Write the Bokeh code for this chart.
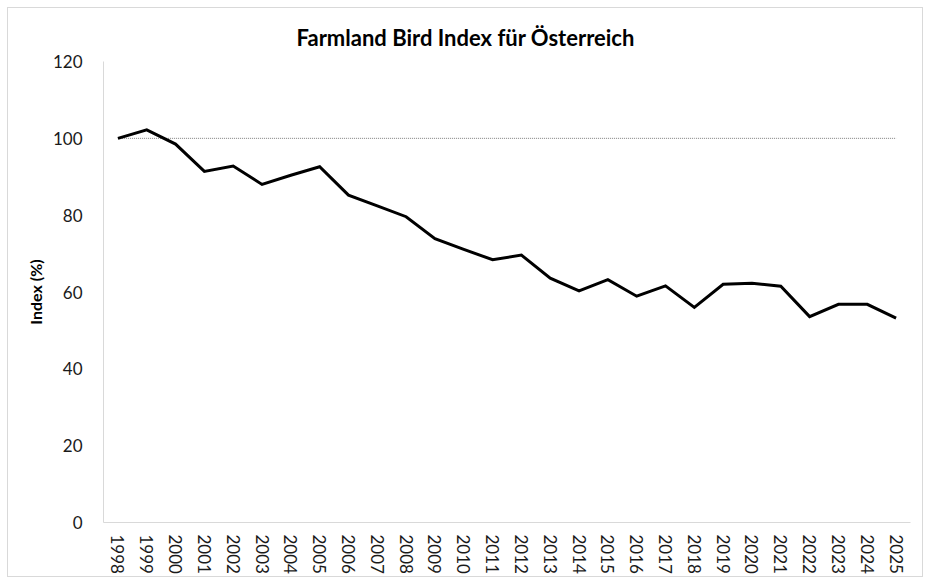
from bokeh.plotting import figure
from bokeh.models import FixedTicker, Range1d
from bokeh.embed import file_html
from bokeh.resources import INLINE

years = [str(y) for y in range(1998, 2026)]
index_values = [100.0, 102.2, 98.5, 91.4, 92.8, 88.0, 90.4, 92.6, 85.2, 82.4,
                79.6, 73.9, 71.1, 68.4, 69.6, 63.6, 60.3, 63.2, 58.9, 61.6,
                56.0, 62.0, 62.3, 61.5, 53.6, 56.8, 56.8, 53.2]
baseline = 100
y_ticks = [0, 20, 40, 60, 80, 100, 120]
title_text = "Farmland Bird Index für Österreich"
y_label = "Index (%)"

FONT = "Lato"
W, H = 916, 570
ML, MT, MB, MR = 95, 53, 56, 14

p = figure(x_range=years, y_range=Range1d(0, 120), width=W, height=H,
           output_backend="svg", toolbar_location=None,
           min_border_left=ML, min_border_right=MR, min_border_top=MT,
           min_border_bottom=MB, title=title_text)
p.styles = {"border": "1px solid #d9d9d9", "margin-left": "7px",
            "margin-top": "7px"}
p.outline_line_color = None
p.xgrid.grid_line_color = None
p.ygrid.grid_line_color = None

p.title.align = "left"
p.title.offset = 193
p.title.standoff = 22
p.title.text_font = FONT
p.title.text_font_style = "bold"
p.title.text_font_size = "22px"
p.title.text_color = "black"

p.line(years, [baseline] * len(years), line_color="#7f7f7f", line_width=1,
       line_dash="1 1")
p.line(years, index_values, line_color="black", line_width=3, line_join="miter")

for ax in (p.xaxis, p.yaxis):
    ax.axis_line_color = "#d9d9d9"
    ax.major_tick_line_color = None
    ax.minor_tick_line_color = None
    ax.major_label_text_font = FONT
    ax.major_label_text_color = "#1a1a1a"

p.yaxis.ticker = FixedTicker(ticks=y_ticks)
p.yaxis.major_label_text_font_size = "17px"
p.yaxis.major_label_standoff = 15
p.yaxis.axis_label = y_label
p.yaxis.axis_label_text_font = FONT
p.yaxis.axis_label_text_font_style = "bold"
p.yaxis.axis_label_text_font_size = "16px"
p.yaxis.axis_label_text_color = "black"
p.yaxis.axis_label_standoff = 5

p.xaxis.major_label_orientation = "vertical"
p.xaxis.major_label_text_font_size = "17px"
p.xaxis.major_label_standoff = 6

open("out.html", "w").write(file_html(p, INLINE))
